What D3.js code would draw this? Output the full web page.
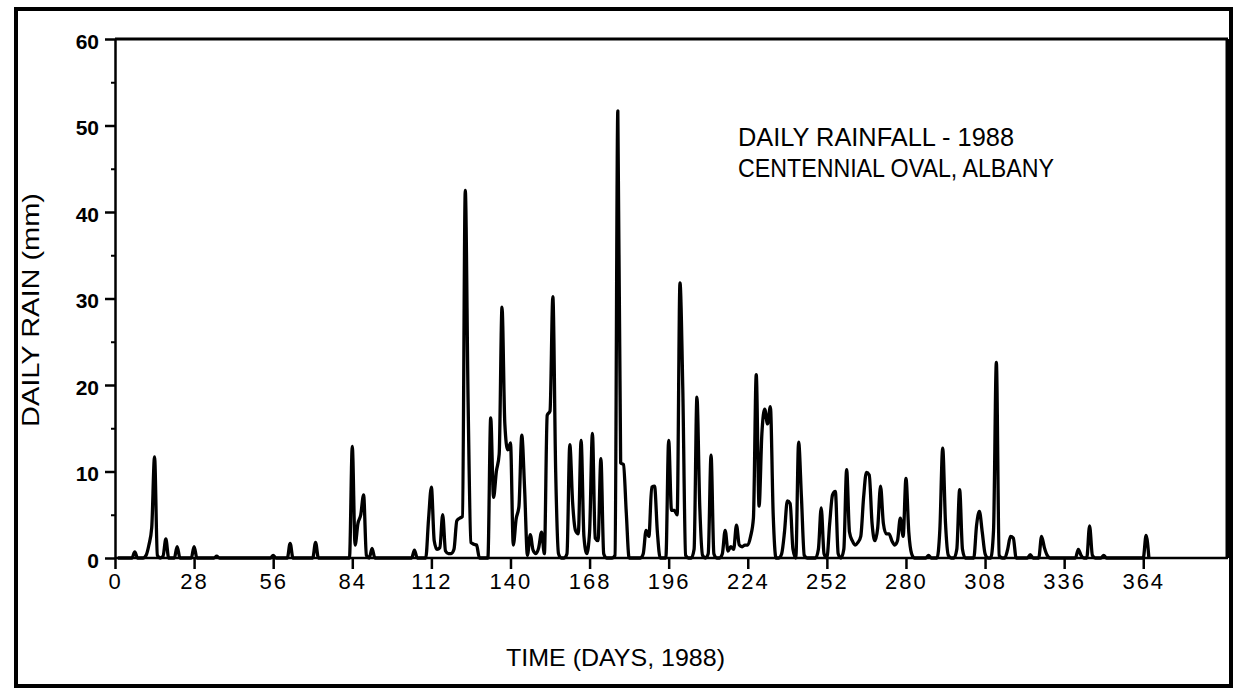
<!DOCTYPE html>
<html>
<head>
<meta charset="utf-8">
<script src="https://cdn.jsdelivr.net/npm/d3@7"></script>
<style>
  html, body { margin: 0; padding: 0; background: #fff; }
  svg { display: block; }
  text { font-family: "Liberation Sans", Arial, Helvetica, sans-serif; fill: #000; }
</style>
</head>
<body>
<svg id="chart" width="1237" height="690"></svg>
<script>
// Daily rainfall (mm), Centennial Oval, Albany, 1988 — day 1 .. day 366, two weeks per row
const rainRows = [
  [0,0,0,0,0,0,0.7,0,0,0,0.3,1.5,3.5,11.7],
  [0.3,0,0.2,2.2,0,0,0,1.3,0,0,0,0,0,1.3],
  [0,0,0,0,0,0,0,0.2,0,0,0,0,0,0],
  [0,0,0,0,0,0,0,0,0,0,0,0,0,0.3],
  [0,0,0,0,0,1.7,0,0,0,0,0,0,0,0],
  [1.8,0,0,0,0,0,0,0,0,0,0,0,0,12.9],
  [1.5,4,5,7.3,0.3,0,1.1,0,0,0,0,0,0,0],
  [0,0,0,0,0,0,0,0.9,0,0,0,0,4.5,8.2],
  [2,1,1.2,5,0.8,0.5,0.5,1,4.3,4.6,4.8,42.5,18,1.8],
  [1.6,1.5,0,0,0,0,16.2,7,10,12,29,15.5,12.5,13.3],
  [1.5,4.5,6,14.2,8,0.3,2.7,0.9,0.5,1.2,3,0.5,16.5,17],
  [30.2,10,0.5,0,0,0.5,13.1,6.4,3.2,2.8,13.6,2.5,0.5,3],
  [14.4,2.3,2,11.5,0.5,0,0,0,0.3,51.7,11,10.8,5.2,0],
  [0,0,0,0,0.5,3.2,2.5,8.2,8.3,3,0,0,0,13.6],
  [5.5,5.5,5,31.8,19.5,0.3,0,0,1,18.6,6,0.3,0,0.5],
  [11.9,0.5,0,0,0.5,3.2,0.8,1.3,1,3.8,1.5,1.3,1.5,1.5],
  [2.5,4.6,21.2,6,14.4,17.2,15.5,17.5,5,0,0,0.5,3,6.6],
  [6.3,1,0,13.4,7,0.3,0,0,0,0,1,5.8,0.5,0],
  [4,7.3,7.7,0.5,0,1,10.2,3,2,1.5,1.8,2.5,7,9.9],
  [9.6,4,2,3.5,8.3,4,2.8,2.8,2,1.5,2,4.6,2.5,9.2],
  [3,0.5,0,0,0,0,0,0.3,0,0,0,3.3,12.7,4],
  [0.3,0,0,1,7.9,1,0,0,0,0,3.8,5.4,3,0.5],
  [0,0,3.2,22.6,0.3,0,0,1,2.5,2.3,0,0,0,0],
  [0,0.4,0,0,0,2.5,1.2,0.3,0,0,0,0,0,0],
  [0,0,0,0,1,0.3,0,0,3.7,0.3,0,0,0,0.3],
  [0,0,0,0,0,0,0,0,0,0,0,0,0,0],
  [2.6,0]
];

const xTicks = [0,28,56,84,112,140,168,196,224,252,280,308,336,364];
const yTicks = [0,10,20,30,40,50,60];
const yMinorTicks = [5,15,25,35,45,55];

const titleLines = ["DAILY RAINFALL - 1988", "CENTENNIAL OVAL, ALBANY"];
const xTitle = "TIME (DAYS, 1988)";
const yTitle = "DAILY RAIN (mm)";

const rain = rainRows.flat().map((mm, i) => ({ day: i + 1, mm }));

const svg = d3.select("#chart");

const x = d3.scaleLinear().domain([0, 394]).range([115, 1228]);
const y = d3.scaleLinear().domain([0, 60]).range([558, 39]);

// outer border of the figure
svg.append("rect")
  .attr("x", 16).attr("y", 9)
  .attr("width", 1215).attr("height", 677)
  .attr("fill", "none").attr("stroke", "#000").attr("stroke-width", 4);

// plot frame (top and right)
svg.append("line")
  .attr("x1", x(0)).attr("x2", x(394))
  .attr("y1", y(60)).attr("y2", y(60))
  .attr("stroke", "#000").attr("stroke-width", 3);
svg.append("line")
  .attr("x1", x(394)).attr("x2", x(394))
  .attr("y1", y(60)).attr("y2", y(0))
  .attr("stroke", "#000").attr("stroke-width", 5);

// x axis
const xAxis = svg.append("g")
  .attr("transform", `translate(0,${y(0)})`)
  .call(d3.axisBottom(x).tickValues(xTicks).tickSize(11).tickPadding(4).tickSizeOuter(0));
xAxis.select(".domain").attr("stroke", "#000").attr("stroke-width", 2.5)
  .attr("d", `M${x(0)},0H${x(394)}`);
xAxis.selectAll(".tick line").attr("stroke", "#000").attr("stroke-width", 2.5);
xAxis.selectAll(".tick text")
  .attr("font-size", 22).attr("letter-spacing", "2px").attr("dy", "0.71em")
  .attr("font-family", "'Liberation Sans', Arial, sans-serif").attr("fill", "#000");

// y axis
const yAxis = svg.append("g")
  .attr("transform", `translate(${x(0)},0)`)
  .call(d3.axisLeft(y).tickValues(yTicks).tickSize(10).tickPadding(6).tickSizeOuter(0));
yAxis.select(".domain").attr("stroke", "#000").attr("stroke-width", 2.5);
yAxis.selectAll(".tick line").attr("stroke", "#000").attr("stroke-width", 2.5);
yAxis.selectAll(".tick text")
  .attr("font-size", 21).attr("font-weight", "bold").attr("dy", "0.45em")
  .attr("font-family", "'Liberation Sans', Arial, sans-serif").attr("fill", "#000");

svg.append("g")
  .attr("transform", `translate(${x(0)},0)`)
  .call(d3.axisLeft(y).tickValues(yMinorTicks).tickSize(4).tickFormat(""))
  .call(g => g.select(".domain").remove())
  .selectAll(".tick line").attr("stroke", "#000").attr("stroke-width", 2);

// rainfall trace
const line = d3.line()
  .x(d => x(d.day))
  .y(d => y(d.mm))
  .curve(d3.curveMonotoneX);

svg.append("path")
  .datum(rain)
  .attr("d", line)
  .attr("fill", "none")
  .attr("stroke", "#000")
  .attr("stroke-width", 3.3)
  .attr("stroke-linejoin", "round");

// annotation
svg.append("text")
  .attr("x", 738).attr("y", 146)
  .attr("font-size", 25)
  .attr("textLength", 276).attr("lengthAdjust", "spacingAndGlyphs")
  .text(titleLines[0]);
svg.append("text")
  .attr("x", 738).attr("y", 177)
  .attr("font-size", 25)
  .attr("textLength", 316).attr("lengthAdjust", "spacingAndGlyphs")
  .text(titleLines[1]);

// axis titles
svg.append("text")
  .attr("x", 506).attr("y", 666)
  .attr("font-size", 24)
  .attr("textLength", 219).attr("lengthAdjust", "spacingAndGlyphs")
  .text(xTitle);

svg.append("text")
  .attr("transform", "translate(39,427) rotate(-90)")
  .attr("font-size", 24)
  .attr("textLength", 234).attr("lengthAdjust", "spacingAndGlyphs")
  .text(yTitle);
</script>
</body>
</html>
